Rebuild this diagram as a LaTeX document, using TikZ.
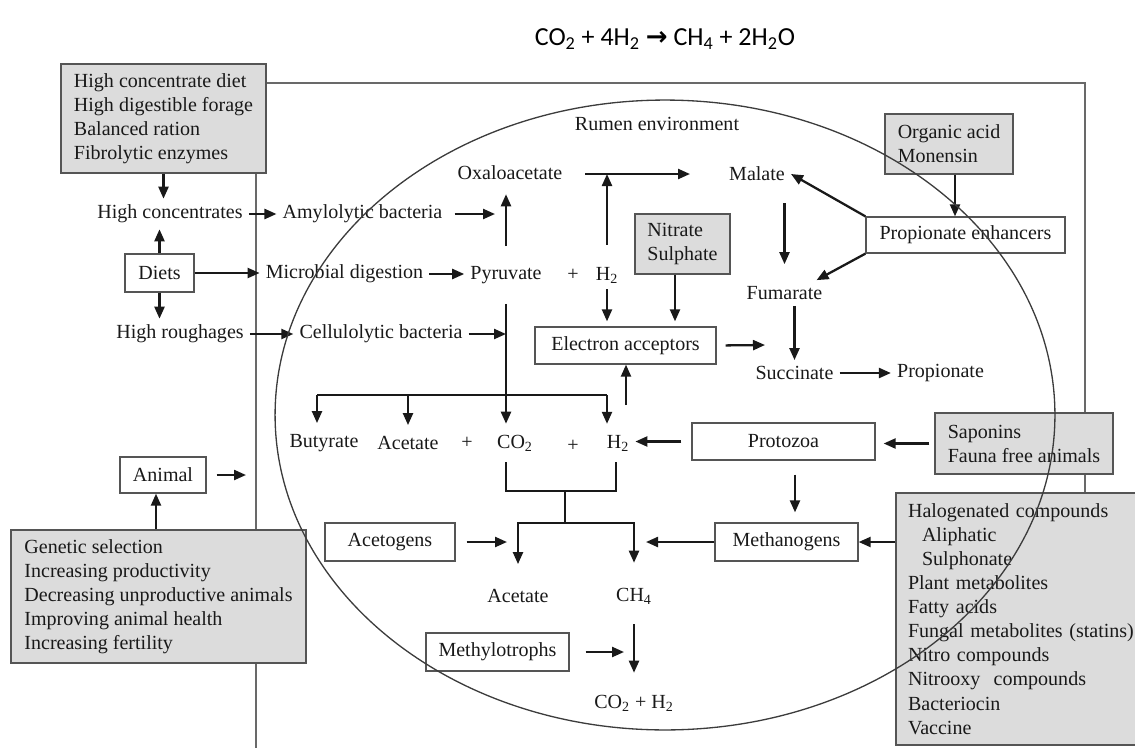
\documentclass[tikz,border=0pt]{standalone}
\usepackage{fontspec}
\setmainfont{Liberation Serif}
\newfontfamily\eqfont{Carlito}
\newfontfamily\arrowfont{DejaVu Sans}
\usetikzlibrary{arrows.meta}

\begin{document}
\begin{tikzpicture}[x=0.02cm, y=-0.02cm,
    every node/.style={font=\fontsize{11.4}{13.7}\selectfont, text=txtgray},
    wbox/.style={draw=linegray, line width=0.75pt, fill=white},
    gbox/.style={draw=linegray, line width=0.75pt, fill=boxgray, align=left},
    frame/.style={draw=framegray, line width=0.75pt},
    link/.style={draw=arrowblack, line width=0.9pt},
    arr/.style={draw=arrowblack, line width=1.3pt, -{Triangle[length=0.24cm, width=0.2cm]}}]
    % colours
    \definecolor{boxgray}{RGB}{220,220,220}
    \definecolor{linegray}{RGB}{85,85,85}
    \definecolor{framegray}{RGB}{105,105,105}
    \definecolor{ellgray}{RGB}{60,60,60}
    \definecolor{arrowblack}{RGB}{25,25,25}
    \definecolor{txtgray}{RGB}{25,25,25}

    \clip (0,0) rectangle (1135,747);

    % 1. Equation on top
    \node[font=\eqfont\fontsize{14.8}{16}\selectfont, text=black] (equation) at (665,39)
        {CO\textsubscript{2} + 4H\textsubscript{2} {\arrowfont\bfseries →} CH\textsubscript{4} + 2H\textsubscript{2}O};

    % 2. Outer frame (animal)
    \draw[frame] (256,760) -- (256,83) -- (1085,83) -- (1085,744);

    % 3. Diets and animal side
    \node[gbox, minimum width=4.1cm, minimum height=2.18cm] (dietbox) at (163.5,118.5)
        {High concentrate diet\\High digestible forage\\Balanced ration\\Fibrolytic enzymes};
    \node (highconc) at (170,214) {High concentrates};
    \node[wbox, minimum width=1.38cm, minimum height=0.76cm] (diets) at (159.5,273) {Diets};
    \node (highrough) at (180,334) {High roughages};
    \node (amylo) at (362.5,214) {Amylolytic bacteria};
    \node (micro) at (344.5,274) {Microbial digestion};
    \node (cellulo) at (381,334) {Cellulolytic bacteria};
    \node[wbox, minimum width=1.72cm, minimum height=0.72cm] (animal) at (163,475) {Animal};
    \node[gbox, minimum width=5.9cm, minimum height=2.66cm] (genetic) at (158.5,596.5)
        {Genetic selection\\Increasing productivity\\Decreasing unproductive animals\\Improving animal health\\Increasing fertility};
    \coordinate (animalend) at (246,475);

    % 4. Rumen: upper part
    \node (rumen) at (657,124) {Rumen environment};
    \node (oxalo) at (510,173) {Oxaloacetate};
    \node (malate) at (757,174) {Malate};
    \node (pyruvate) at (506,275) {Pyruvate};
    \node (plusA) at (573,275) {+};
    \node (htwoA) at (607,275) {H\textsubscript{2}};
    \node[gbox, minimum width=1.9cm, minimum height=1.2cm] (nitrate) at (682.5,244) {Nitrate\\Sulphate};
    \node[wbox, minimum width=3.62cm, minimum height=0.74cm] (electron) at (625.5,345.5) {Electron acceptors};
    \node (fumarate) at (784.5,293) {Fumarate};
    \node (succinate) at (794.5,373) {Succinate};
    \node (propionate) at (940.5,373) {Propionate};
    \node[gbox, minimum width=2.56cm, minimum height=1.2cm] (organic) at (949,144) {Organic acid\\Monensin};
    \node[wbox, minimum width=3.98cm, minimum height=0.72cm] (propenh) at (965.5,235) {Propionate enhancers};
    \coordinate (malstart) at (585,174);
    \coordinate (eaend) at (765,345);
    \coordinate (hup) at (626,405);

    % 5. Rumen: fermentation products
    \node (butyrate) at (324,443) {Butyrate};
    \node (acetateA) at (408,443) {Acetate};
    \node (plusB) at (467,443) {+};
    \node (cotwo) at (515,443) {CO\textsubscript{2}};
    \node (plusC) at (573,446) {+};
    \node (htwoB) at (618,443) {H\textsubscript{2}};
    \node[wbox, minimum width=3.66cm, minimum height=0.74cm] (protozoa) at (783.5,441.5) {Protozoa};
    \node[gbox, minimum width=3.56cm, minimum height=1.22cm] (saponin) at (1024,443.5) {Saponins\\Fauna free animals};
    \coordinate (branchL) at (317,395);
    \coordinate (branchR) at (607,395);

    % 6. Rumen: methane
    \node[wbox, minimum width=2.6cm, minimum height=0.76cm] (acetogens) at (390,542) {Acetogens};
    \node[wbox, minimum width=2.86cm, minimum height=0.76cm] (methanogens) at (786.5,542) {Methanogens};
    \node[gbox, text width=5cm, inner xsep=0.24cm, minimum height=5.04cm] (halo) at (1033,619)
        {Halogenated compounds\\\hspace*{0.28cm}Aliphatic\\\hspace*{0.28cm}Sulphonate\\Plant metabolites\\Fatty acids\\Fungal metabolites (statins)\\Nitro compounds\\Nitrooxy\ \ compounds\\Bacteriocin\\Vaccine};
    \node (acetateB) at (518,596) {Acetate};
    \node (methane) at (634,596) {CH\textsubscript{4}};
    \node[wbox, minimum width=2.86cm, minimum height=0.76cm] (methylo) at (497.5,652) {Methylotrophs};
    \node (cohtwo) at (634,703) {CO\textsubscript{2} + H\textsubscript{2}};
    \coordinate (brackL) at (506,462);
    \coordinate (brackR) at (616,462);
    \coordinate (brackM) at (565,491);
    \coordinate (split) at (565,523);

    % 7. Arrows, left side
    \draw[arr] (dietbox.south) -- (dietbox.south |- highconc.north);
    \draw[arr] (diets.north) -- (diets.north |- highconc.south);
    \draw[arr] (diets.south) -- (diets.south |- highrough.north);
    \draw[arr] (highconc) -- (amylo);
    \draw[arr] (diets.east) -- (diets.east -| micro.west);
    \draw[arr] (highrough) -- (cellulo);
    \draw[arr] (micro.east) -- (micro.east -| pyruvate.west);
    \draw[arr, shorten <=0.12cm] (amylo.east) -- ([xshift=-0.22cm]amylo.east -| pyruvate.north);
    \draw[arr] (cellulo.east) -- (cellulo.east -| pyruvate.south);
    \draw[arr] ([xshift=-0.14cm]animal.south |- genetic.north) -- ([xshift=-0.14cm]animal.south);
    \draw[arr, shorten <=0.2cm] (animal.east) -- (animalend);

    % 8. Arrows, upper rumen
    \draw[arr, shorten <=0.28cm, shorten >=0.16cm] (pyruvate.north) -- (pyruvate.north |- oxalo.south);
    \draw[arr, shorten >=0.66cm] (malstart) -- (malate.west);
    \draw[arr, shorten <=0.32cm] (htwoA.north) -- (htwoA.north |- malstart);
    \draw[arr, shorten >=0.1cm] (htwoA.south) -- (htwoA.south |- electron.north);
    \draw[arr, shorten >=0.1cm] ([xshift=-0.15cm]nitrate.south) -- ([xshift=-0.15cm]nitrate.south |- electron.north);
    \draw[arr, shorten <=0.18cm] (electron.east) -- (eaend);
    \draw[arr] (hup) -- (hup |- electron.south);
    \draw[arr] (propenh.north west) -- (malate.east);
    \draw[arr] (propenh.south west) -- ([xshift=-0.24cm]fumarate.north east);
    \draw[arr, shorten <=0.32cm, shorten >=0.32cm] (fumarate.north |- malate.south) -- (fumarate.north);
    \draw[arr] (succinate.north |- fumarate.south) -- (succinate.north);
    \draw[arr] (succinate) -- (propionate);
    \draw[arr] ([xshift=0.12cm]organic.south) -- ([xshift=0.12cm]organic.south |- propenh.north);

    % 9. Branching of pyruvate
    \draw[link] (branchL) -- (branchR);
    \draw[link, shorten <=0.28cm] (pyruvate.south) -- (pyruvate.south |- branchL);
    \draw[arr, shorten >=0.1cm] (branchL) -- (branchL |- butyrate.north);
    \draw[arr, shorten >=0.1cm] (acetateA.north |- branchL) -- (acetateA.north);
    \draw[arr, shorten >=0.1cm] (pyruvate.south |- branchL) -- (pyruvate.south |- cotwo.north);
    \draw[arr, shorten >=0.1cm] (branchR) -- (branchR |- htwoB.north);

    % 10. Arrows, lower rumen
    \draw[arr, shorten <=0.2cm] (protozoa.west) -- (protozoa.west -| htwoB.east);
    \draw[arr, shorten <=0.1cm, shorten >=0.16cm] (saponin.west) -- (saponin.west -| protozoa.east);
    \draw[arr, shorten <=0.28cm, shorten >=0.2cm] ([xshift=0.23cm]protozoa.south) -- ([xshift=0.23cm]protozoa.south |- methanogens.north);
    \draw[arr] (methanogens.east -| halo.west) -- (methanogens.east);
    \draw[link] (brackL) |- (brackM) -| (brackR);
    \draw[link] (brackM) -- (split);
    \draw[arr, shorten >=0.38cm] (split) -| (acetateB.north);
    \draw[arr, shorten >=0.38cm] (split) -| (methane.north);
    \draw[arr, shorten <=0.22cm, shorten >=0.22cm] (acetogens.east) -- (acetogens.east -| acetateB.north);
    \draw[arr, shorten >=0.24cm] (methanogens.west) -- (methanogens.west -| methane.north);
    \draw[arr, shorten <=0.28cm, shorten >=0.32cm] (methane.south) -- (cohtwo.north);
    \draw[arr, shorten <=0.32cm, shorten >=0.2cm] (methylo.east) -- (methylo.east -| methane.south);

    % 11. Rumen environment
    \draw[frame, draw=ellgray] (665,415) ellipse [x radius=7.8cm, y radius=6.3cm];

\end{tikzpicture}
\end{document}
